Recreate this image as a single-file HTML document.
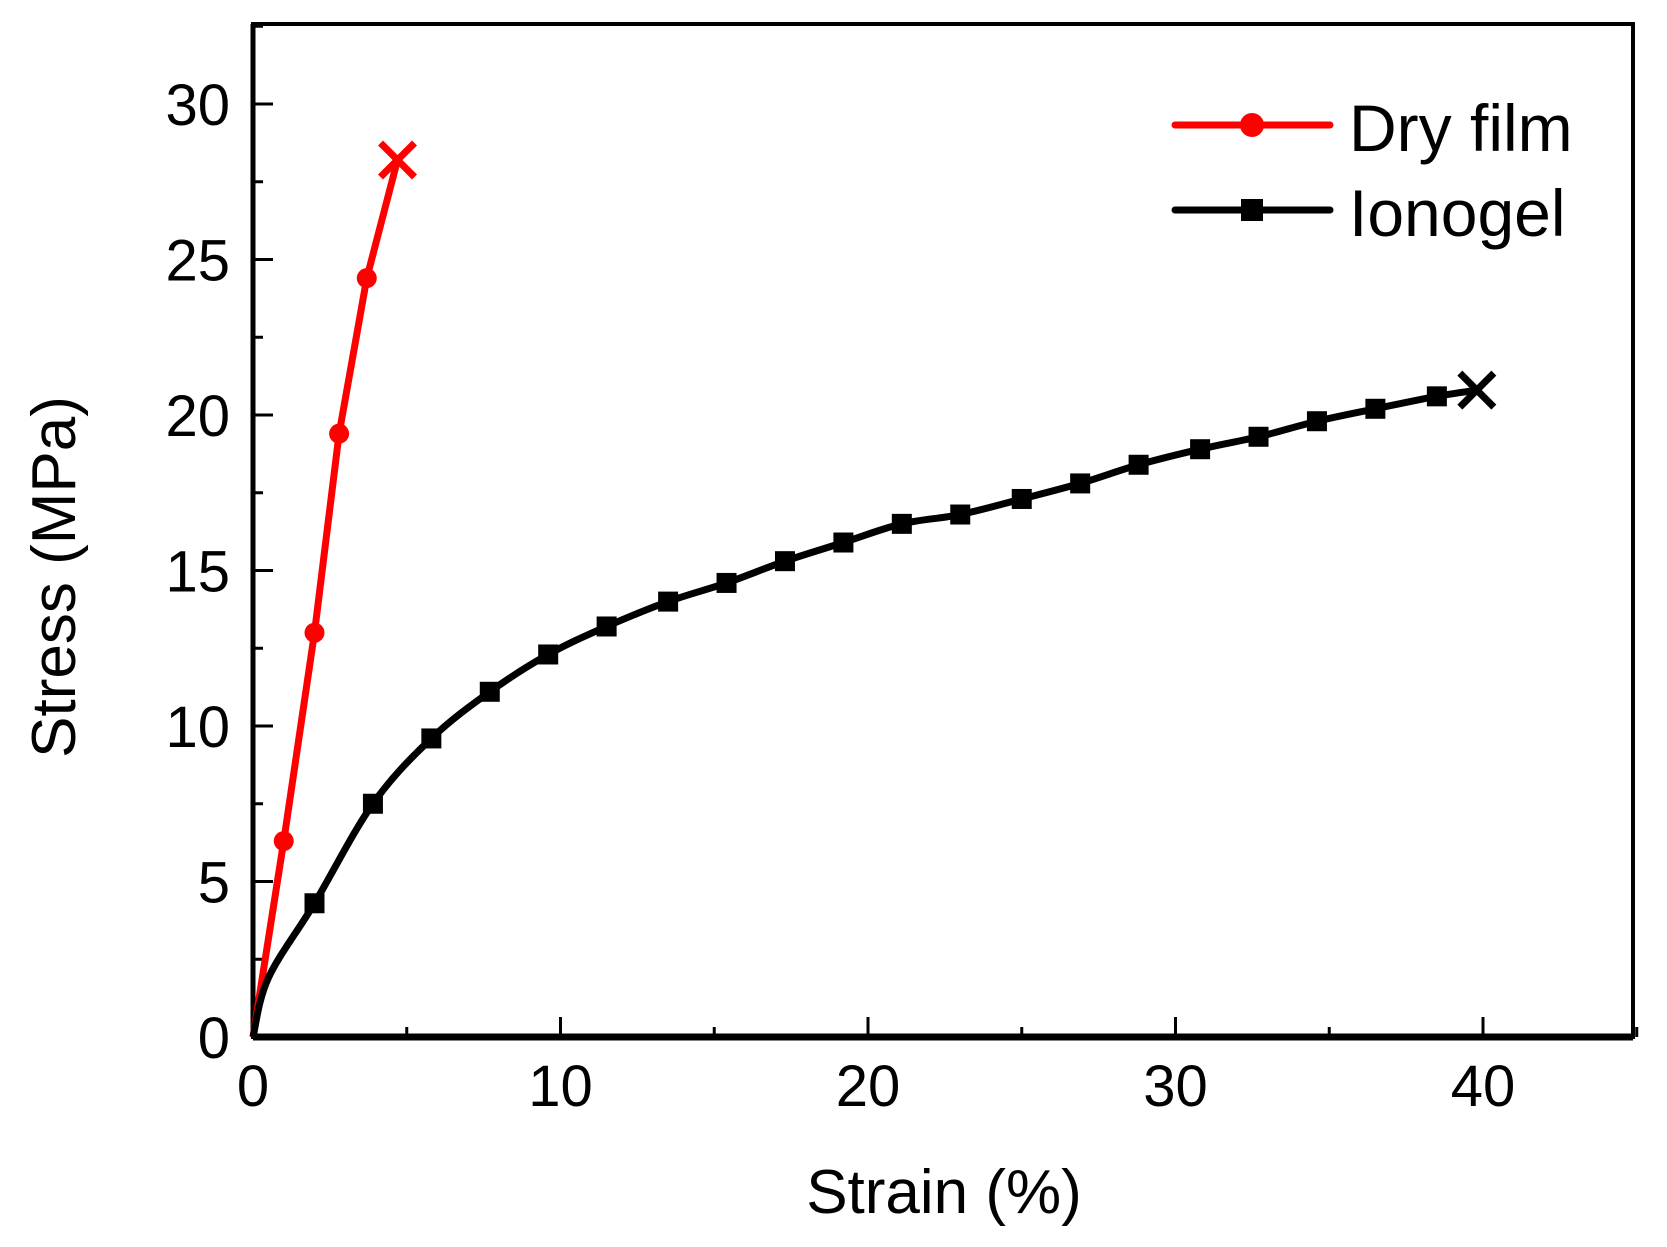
<!DOCTYPE html>
<html><head><meta charset="utf-8"><style>
body{margin:0;background:#fff}
svg{display:block;font-family:"Liberation Sans",Arial,sans-serif}
</style></head><body>
<svg id="chart" width="1667" height="1247" viewBox="0 0 1667 1247">
<g id="marks"></g>
</svg>
<script>
const dryX=[0,1,2,2.8,3.7,4.7];
const dryY=[0,6.3,13,19.4,24.4,28.2];
const ionoX=[0,2,3.9,5.8,7.7,9.6,11.5,13.5,15.4,17.3,19.2,21.1,23,25,26.9,28.8,30.8,32.7,34.6,36.5,38.5,39.8];
const ionoY=[0,4.3,7.5,9.6,11.1,12.3,13.2,14.0,14.6,15.3,15.9,16.5,16.8,17.3,17.8,18.4,18.9,19.3,19.8,20.2,20.6,20.8];
const ionoStartX=[0,0.5];
const ionoStartY=[0,1.9];
const xTicks=[0,10,20,30,40];
const yTicks=[0,5,10,15,20,25,30];
const L=253,R=1633,T=24,B=1037;
const sx=v=>L+v*(1483-L)/40;
const sy=v=>B-v*(B-104)/30;
const NS="http://www.w3.org/2000/svg";
const g=document.getElementById('marks');
function mk(t,a,p){const e=document.createElementNS(NS,t);for(const k in a)e.setAttribute(k,a[k]);(p||g).appendChild(e);return e;}
let fr=mk('rect',{x:L,y:T,width:R-L,height:B-T,fill:'none',stroke:'#000','stroke-width':4});


let bx=mk('line',{x1:L,y1:B,x2:R,y2:B,stroke:'#000','stroke-width':7});


let ly=mk('line',{x1:L,y1:T,x2:L,y2:B,stroke:'#000','stroke-width':5});


for(let v=0;v<=45;v+=5){const maj=v%10===0;const t=mk('line',{x1:sx(v),y1:B,x2:sx(v),y2:B-(maj?20:10),stroke:'#000','stroke-width':3});

}
xTicks.forEach(v=>{const t=mk('text',{x:sx(v),y:1106,'text-anchor':'middle','font-size':58});t.textContent=v;

});
for(let v=0;v<=32.5;v+=2.5){const maj=v%5===0;const t=mk('line',{x1:L,y1:sy(v),x2:L+(maj?20:10),y2:sy(v),stroke:'#000','stroke-width':3});

}
yTicks.forEach(v=>{const t=mk('text',{x:230,y:sy(v)+21,'text-anchor':'end','font-size':58});t.textContent=v;

});
let xt=mk('text',{x:944,y:1213,'text-anchor':'middle','font-size':62});xt.textContent='Strain (%)';


let yt=mk('text',{x:0,y:0,'text-anchor':'middle','font-size':62,transform:'translate(75,577) rotate(-90)'});yt.textContent='Stress (MPa)';


function smoothPath(xs,ys){const P=xs.map((x,i)=>[sx(x),sy(ys[i])]);let d=`M${P[0][0]},${P[0][1]}`;
for(let i=0;i<P.length-1;i++){const p0=P[Math.max(0,i-1)],p1=P[i],p2=P[i+1],p3=P[Math.min(P.length-1,i+2)];
const c1=[p1[0]+(p2[0]-p0[0])/6,p1[1]+(p2[1]-p0[1])/6],c2=[p2[0]-(p3[0]-p1[0])/6,p2[1]-(p3[1]-p1[1])/6];
d+=`C${c1[0]},${c1[1]} ${c2[0]},${c2[1]} ${p2[0]},${p2[1]}`;}return d;}
let dl=mk('polyline',{points:dryX.map((x,i)=>sx(x)+','+sy(dryY[i])).join(' '),fill:'none',stroke:'#f00','stroke-width':7,'stroke-linejoin':'round'});


const ilX=ionoStartX.concat(ionoX.slice(1)),ilY=ionoStartY.concat(ionoY.slice(1));
let il=mk('path',{d:smoothPath(ilX,ilY),fill:'none',stroke:'#000','stroke-width':7,'stroke-linejoin':'round'});


for(let i=1;i<dryX.length-1;i++){const c=mk('circle',{cx:sx(dryX[i]),cy:sy(dryY[i]),r:10,fill:'#f00'});

}
for(let i=1;i<ionoX.length-1;i++){const c=mk('rect',{x:sx(ionoX[i])-10,y:sy(ionoY[i])-10,width:20,height:20,fill:'#000'});

}
function cross(x,y,col,name){const cx=sx(x),cy=sy(y),d=17;const p=mk('path',{d:`M${cx-d},${cy-d}L${cx+d},${cy+d}M${cx-d},${cy+d}L${cx+d},${cy-d}`,stroke:col,'stroke-width':7});

}
cross(dryX[dryX.length-1],dryY[dryY.length-1],'#f00','dry-film-break-mark');
cross(ionoX[ionoX.length-1],ionoY[ionoY.length-1],'#000','ionogel-break-mark');
function leg(y,col,txt,sq,name){const gg=mk('g',{});


mk('line',{x1:1175,y1:y,x2:1330,y2:y,stroke:col,'stroke-width':7,'stroke-linecap':'round'},gg);
if(sq)mk('rect',{x:1241,y:y-11,width:22,height:22,fill:col},gg);else mk('circle',{cx:1252,cy:y,r:12,fill:col},gg);
const t=mk('text',{x:1349,y:y+26,'font-size':66},gg);t.textContent=txt;}
leg(125,'#f00','Dry film',false,'legend-entry-dry-film');
leg(210,'#000','Ionogel',true,'legend-entry-ionogel');
</script>
</body></html>
